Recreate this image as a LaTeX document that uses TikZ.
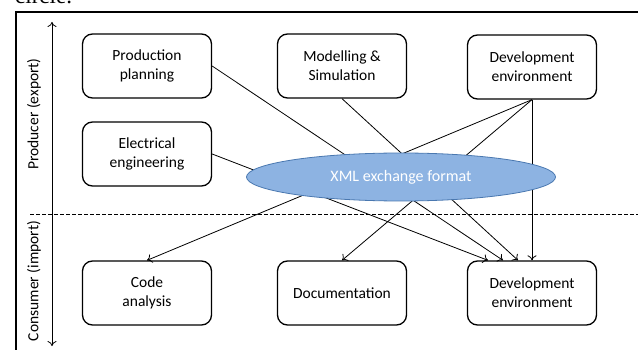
\documentclass[tikz,border=0pt]{standalone}
\usepackage{fontspec}
\setmainfont{Carlito}
\newfontfamily\captionserif{Liberation Serif}
\usetikzlibrary{shapes.geometric,arrows.meta}
\definecolor{xmlfill}{HTML}{8DB3E2}
\definecolor{xmlline}{HTML}{4A78B0}
\begin{document}
\begin{tikzpicture}[x=1pt,y=-1pt,>={To[length=5pt,width=9pt]},
  tool/.style={draw,line width=1.3pt,rounded corners=10pt,minimum width=129pt,minimum height=64pt,align=center,font=\fontsize{15.5}{19}\selectfont},
  flow/.style={line width=0.8pt},
  side/.style={rotate=90,font=\fontsize{15.5}{18}\selectfont}]
\useasboundingbox (0,0) rectangle (638,350);
\clip (0,0) rectangle (638,350);
% text of the page above the figure
\node[anchor=base west,inner sep=0,font=\captionserif\fontsize{23}{26}\selectfont] (cap) at (15,4) {circle.};
% frame and axis
\draw[line width=1.3pt] (16,352) -- (16,12) -- (640,12);
\draw[flow] [<->] (52,22) -- (52,346);
\node[side] (prodlbl) at (34,114) {Producer (export)};
\node[side] (conslbl) at (34,281) {Consumer (import)};
\draw[flow,dashed,dash pattern=on 4pt off 2pt] (30,214) -- (640,214);
% producers
\node[tool] (prod) at (147,66) {Production\\planning};
\node[tool] (model) at (342,66) {Modelling \&\\Simulation};
\node[tool] (devT) at (532,67) {Development\\environment};
\node[tool] (elec) at (147,154) {Electrical\\engineering};
% consumers
\node[tool] (code) at (147,293) {Code\\analysis};
\node[tool] (doc) at (342,293) {Documentation};
\node[tool] (devB) at (532,293) {Development\\environment};
% exchange
\draw[flow,->] (prod.east) -- ([xshift=-29pt]devB.north);
\draw[flow,->] (model.south) -- ([xshift=-14pt]devB.north);
\draw[flow,->] (elec.east) -- ([xshift=-44pt]devB.north);
\draw[flow,->] (devT.south) -- (devB.north);
\draw[flow,->] (devT.south) -- (code.north);
\draw[flow,->] (devT.south) -- (doc.north);
\node[ellipse,draw=xmlline,line width=0.8pt,fill=xmlfill,minimum width=309pt,minimum height=48pt,inner sep=0,text=white,font=\fontsize{16}{18}\selectfont] (xml) at (401,177) {XML exchange format};
\end{tikzpicture}
\end{document}
